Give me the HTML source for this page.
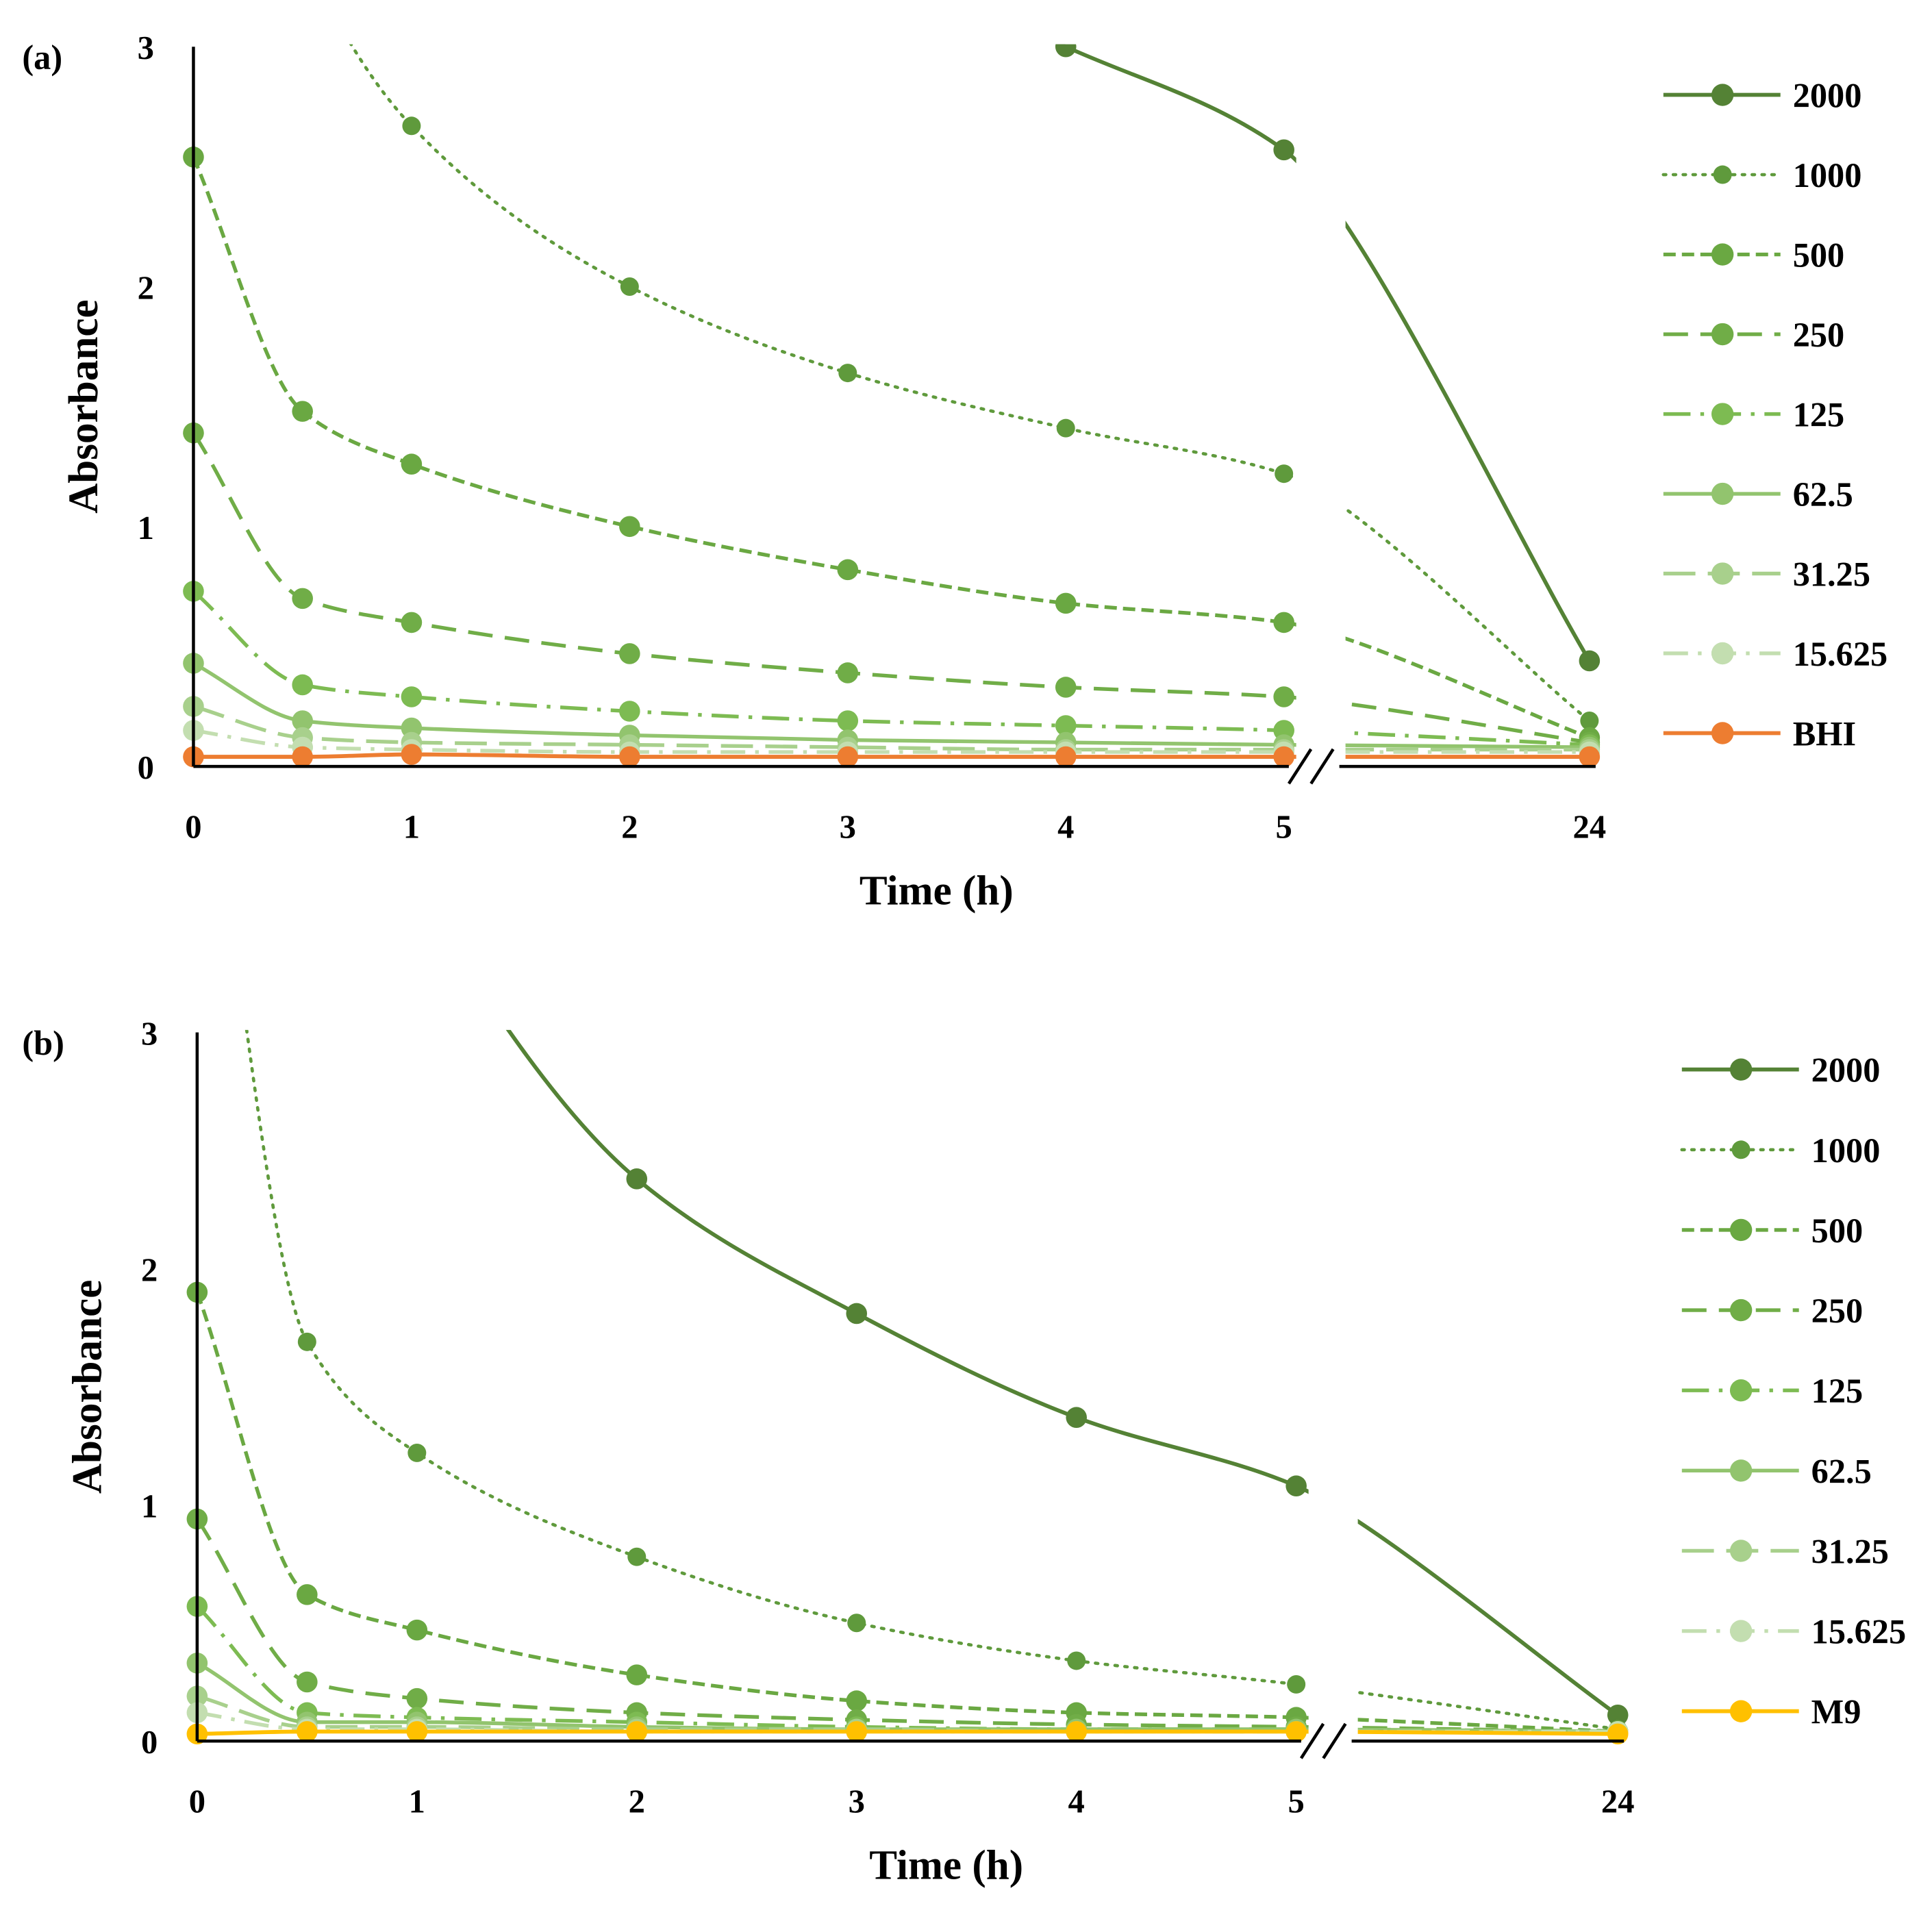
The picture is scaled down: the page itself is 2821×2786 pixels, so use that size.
<!DOCTYPE html>
<html><head><meta charset="utf-8"><style>
html,body{margin:0;padding:0;background:#fff}
svg{display:block}
text{font-family:"Liberation Serif",serif;font-weight:bold;fill:#000}
</style></head><body>
<svg id="chart" width="2821" height="2786" viewBox="0 0 1568 1548.5" preserveAspectRatio="none" xmlns="http://www.w3.org/2000/svg"></svg>
<script>
const timeCats = [0, 0.5, 1, 2, 3, 4, 5, 24];
const xTickLabels = ["0","1","2","3","4","5","24"];
const xTickValues = [0,1,2,3,4,5,24];
const yTickValues = [0,1,2,3];
const seriesNamesA = ["2000","1000","500","250","125","62.5","31.25","15.625","BHI"];
const seriesNamesB = ["2000","1000","500","250","125","62.5","31.25","15.625","M9"];
const a2000 = [7.0, 6.0, 5.0, 3.9, 3.4, 3.0, 2.57, 0.44];
const a1000 = [5.0, 3.4, 2.67, 2.0, 1.64, 1.41, 1.22, 0.19];
const a500 = [2.54, 1.48, 1.26, 1.0, 0.82, 0.68, 0.60, 0.12];
const a250 = [1.39, 0.70, 0.60, 0.47, 0.39, 0.33, 0.29, 0.10];
const a125 = [0.73, 0.34, 0.29, 0.23, 0.19, 0.17, 0.15, 0.09];
const a62 = [0.43, 0.19, 0.16, 0.13, 0.11, 0.10, 0.09, 0.08];
const a31 = [0.25, 0.12, 0.10, 0.09, 0.08, 0.07, 0.07, 0.07];
const a15 = [0.15, 0.08, 0.07, 0.06, 0.06, 0.06, 0.06, 0.06];
const aBHI = [0.04, 0.04, 0.05, 0.04, 0.04, 0.04, 0.04, 0.04];
const b2000 = [5.5, 4.5, 3.6, 2.38, 1.81, 1.37, 1.08, 0.11];
const b1000 = [4.5, 1.69, 1.22, 0.78, 0.50, 0.34, 0.24, 0.05];
const b500 = [1.90, 0.62, 0.47, 0.28, 0.17, 0.12, 0.10, 0.04];
const b250 = [0.94, 0.25, 0.18, 0.12, 0.09, 0.07, 0.06, 0.04];
const b125 = [0.57, 0.12, 0.10, 0.08, 0.06, 0.05, 0.05, 0.04];
const b62 = [0.33, 0.08, 0.08, 0.06, 0.05, 0.05, 0.05, 0.04];
const b31 = [0.19, 0.06, 0.06, 0.05, 0.05, 0.04, 0.04, 0.04];
const b15 = [0.12, 0.05, 0.05, 0.04, 0.04, 0.04, 0.04, 0.04];
const bM9 = [0.03, 0.04, 0.04, 0.04, 0.04, 0.04, 0.04, 0.03];

const styles = [
 {c:"#548235", d:"", w:3.2},
 {c:"#5f9a3c", d:"2 6", w:2.6},
 {c:"#6aa842", d:"10 5", w:3},
 {c:"#70ad47", d:"20 10", w:3},
 {c:"#7dbb52", d:"22 8 3 8", w:3},
 {c:"#92c46e", d:"", w:3},
 {c:"#a8d08c", d:"26 10", w:3},
 {c:"#c3deb0", d:"20 8 3 8", w:3}
];
const NS="http://www.w3.org/2000/svg";
const svg=document.getElementById('chart');
function el(tag,attrs,parent){const e=document.createElementNS(NS,tag);for(const k in attrs)e.setAttribute(k,attrs[k]);(parent||svg).appendChild(e);return e;}

function monotonePath(pts){
  const n=pts.length;
  const dx=[],s=[];
  for(let i=0;i<n-1;i++){dx.push(pts[i+1][0]-pts[i][0]);s.push((pts[i+1][1]-pts[i][1])/dx[i]);}
  const m=[s[0]];
  for(let i=1;i<n-1;i++){
    if(s[i-1]*s[i]<=0) m.push(0);
    else { const w1=2*dx[i]+dx[i-1], w2=dx[i]+2*dx[i-1]; m.push((w1+w2)/(w1/s[i-1]+w2/s[i])); }
  }
  m.push(s[n-2]);
  let d='M'+pts[0][0]+','+pts[0][1];
  for(let i=0;i<n-1;i++){
    const h=dx[i]/3;
    // limit tangent influence for very long segments
    const hh=Math.min(h,60);
    d+=' C'+(pts[i][0]+hh)+','+(pts[i][1]+m[i]*hh)+' '+(pts[i+1][0]-hh)+','+(pts[i+1][1]-m[i+1]*hh)+' '+pts[i+1][0]+','+pts[i+1][1];
  }
  return d;
}

function drawPanel(P){
  const g=el('g',{});
  
  
  const xPos=t=>{ if(t<=5) return P.x0+t*P.ux; return P.x24; };
  const yPos=v=>P.y0-v*P.uy;
  const cid=P.id+'-clip';
  const cp=el('clipPath',{id:cid},g);
  el('rect',{x:P.x0-15,y:P.y0-3*P.uy-2,width:P.x24-P.x0+30,height:3*P.uy+20},cp);
  const plot=el('g',{'clip-path':'url(#'+cid+')'},g);
  P.series.forEach((vals,i)=>{
    const st=i<8?styles[i]:{c:P.ctrl,d:"",w:3.2};
    const pts=vals.map((v,j)=>[xPos(timeCats[j]),yPos(v)]);
    const line=el('path',{d:monotonePath(pts),fill:'none',stroke:st.c,'stroke-width':st.w,'stroke-dasharray':st.d,'stroke-linecap':st.d==="2 6"?'round':'butt'},plot);
    
    
    pts.forEach(p=>{
      const m=el('circle',{cx:p[0],cy:p[1],r:i===1?7.5:8.5,fill:st.c},plot);
      
      
    });
  });
  el('rect',{x:P.x0+5*P.ux+10,y:P.y0-3*P.uy-5,width:P.brk,height:3*P.uy+40,fill:'#fff'},g);
  const ya=el('line',{x1:P.x0,y1:P.y0,x2:P.x0,y2:yPos(3),stroke:'#000','stroke-width':2.5},g);
  
  const bx=P.x0+5*P.ux;
  const xa=el('path',{d:'M'+P.x0+','+P.y0+'H'+(bx+4)+'M'+(bx+P.brk+5)+','+P.y0+'H'+(P.x24+5),stroke:'#000','stroke-width':2.5,fill:'none'},g);
  
  const br=el('path',{d:`M${bx+4},${P.y0+14}L${bx+22},${P.y0-14}M${bx+22},${P.y0+14}L${bx+40},${P.y0-14}`,stroke:'#000','stroke-width':2.5},g);
  
  xTickValues.forEach((t,i)=>{
    const tx=el('text',{x:xPos(t),y:P.y0+58,'font-size':27,'text-anchor':'middle'},g);
    tx.textContent=xTickLabels[i];
    
  });
  yTickValues.forEach(v=>{
    const tx=el('text',{x:P.x0-32,y:yPos(v)+10,'font-size':27,'text-anchor':'end'},g);
    tx.textContent=String(v);
    
  });
  const xt=el('text',{x:P.xTitleX,y:P.y0+112,'font-size':34,'text-anchor':'middle'},g);
  xt.textContent='Time (h)';
  const yt=el('text',{x:0,y:0,'font-size':34,'text-anchor':'middle',transform:`translate(${P.x0-78},${yPos(1.5)}) rotate(-90)`},g);
  yt.textContent='Absorbance';
  const pl=el('text',{x:18,y:yPos(3)+18,'font-size':28},g);
  pl.textContent=P.label;
  P.names.forEach((n,i)=>{
    const st=i<8?styles[i]:{c:P.ctrl,d:"",w:3.2};
    const y=P.ly0+i*P.lsp;
    const lg=el('g',{},g);
    
    el('line',{x1:P.lx,y1:y,x2:P.lx+95,y2:y,stroke:st.c,'stroke-width':st.w,'stroke-dasharray':st.d,'stroke-linecap':st.d==="2 6"?'round':'butt'},lg);
    el('circle',{cx:P.lx+48,cy:y,r:i===1?7.5:9,fill:st.c},lg);
    const t=el('text',{x:P.lx+105,y:y+10,'font-size':28},lg);t.textContent=n;
  });
}
drawPanel({id:'panel-a',label:'(a)',x0:157,ux:177,x24:1290,y0:622,uy:194.7,brk:40,ctrl:'#ed7d31',
  series:[a2000,a1000,a500,a250,a125,a62,a31,a15,aBHI],names:seriesNamesA,xTitleX:760,lx:1350,ly0:77,lsp:64.75});
drawPanel({id:'panel-b',label:'(b)',x0:160,ux:178.4,x24:1313,y0:1413,uy:191.7,brk:40,ctrl:'#ffc000',
  series:[b2000,b1000,b500,b250,b125,b62,b31,b15,bM9],names:seriesNamesB,xTitleX:768,lx:1365,ly0:868,lsp:65.1});
</script>
</body></html>
